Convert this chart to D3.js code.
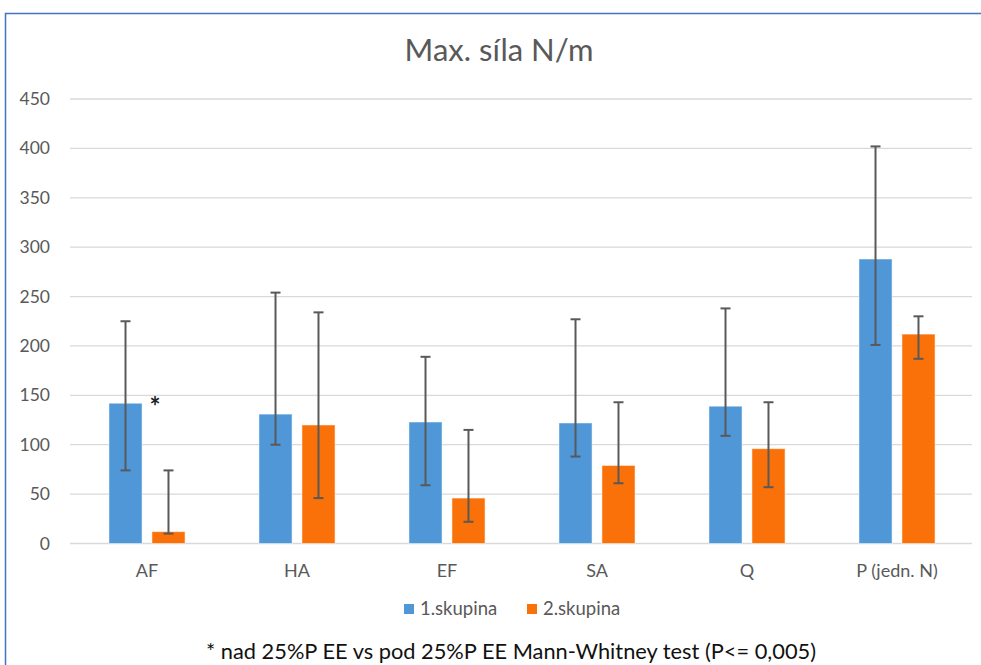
<!DOCTYPE html>
<html>
<head>
<meta charset="utf-8">
<script src="https://cdn.jsdelivr.net/npm/d3@7"></script>
<style>
  body { margin: 0; background: #fff; }
  svg text { font-family: Lato, "Open Sans", sans-serif; }
</style>
</head>
<body>
<svg id="chart" width="981" height="665"></svg>
<script>
// data
let categories = ["AF", "HA", "EF", "SA", "Q", "P (jedn. N)"]
let seriesNames = ["1.skupina", "2.skupina"]
let group1 = [142, 131, 123, 122, 139, 288]
let group2 = [12, 120, 46, 79, 96, 212]
let group1Low = [74, 100, 59, 88, 109, 201]
let group1High = [225, 254, 189, 227, 238, 402]
let group2Low = [10, 46, 22, 61, 57, 187]
let group2High = [74, 234, 115, 143, 143, 230]
let yTicks = [0, 50, 100, 150, 200, 250, 300, 350, 400, 450]
let colors = ["#4F97D7", "#FA7109"]

let svg = d3.select("#chart")

// outer frame
svg.append("path")
    .attr("d", "M5.5,665 L5.5,13.5 L981,13.5")
    .attr("fill", "none")
    .attr("stroke", "#4472C4")
    .attr("stroke-width", 1.5)

let plotLeft = 72, plotRight = 972, plotTop = 99, plotBottom = 543.5

let x = d3.scaleBand()
    .domain(categories)
    .range([plotLeft, plotRight])
let y = d3.scaleLinear()
    .domain([0, 450])
    .range([plotBottom, plotTop])

let inner = d3.scaleBand()
    .domain(seriesNames)
    .range([0, x.bandwidth()])
    .paddingInner(0.23)
    .paddingOuter(0.86)

// grid
svg.append("g")
    .selectAll("line")
    .data(yTicks)
    .join("line")
    .attr("x1", plotLeft - 2)
    .attr("x2", plotRight)
    .attr("y1", d => y(d))
    .attr("y2", d => y(d))
    .attr("stroke", "#d9d9d9")
    .attr("stroke-width", 1.3)

// y axis labels
let yAxis = svg.append("g")
    .attr("transform", "translate(50,0)")
    .call(d3.axisLeft(y).tickValues(yTicks).tickSize(0).tickPadding(0))
yAxis.select(".domain").remove()
yAxis.selectAll("text")
    .attr("font-size", 17.5)
    .attr("fill", "#595959")
    .style("font-family", "Lato, sans-serif")

// x axis labels
let xAxis = svg.append("g")
    .attr("transform", "translate(0," + plotBottom + ")")
    .call(d3.axisBottom(x).tickSize(0).tickPadding(21))
xAxis.select(".domain").remove()
xAxis.selectAll("text")
    .attr("font-size", 18)
    .attr("fill", "#595959")
    .style("font-family", "Lato, sans-serif")

let rows = []
categories.forEach((c, i) => {
    rows.push({ cat: c, s: seriesNames[0], v: group1[i], lo: group1Low[i], hi: group1High[i], col: colors[0] })
    rows.push({ cat: c, s: seriesNames[1], v: group2[i], lo: group2Low[i], hi: group2High[i], col: colors[1] })
})

// bars
svg.append("g")
    .selectAll("rect")
    .data(rows)
    .join("rect")
    .attr("x", d => x(d.cat) + inner(d.s))
    .attr("width", inner.bandwidth())
    .attr("y", d => y(d.v))
    .attr("height", d => y(0) - y(d.v))
    .attr("fill", d => d.col)
    .attr("stroke", "#fff")
    .attr("stroke-opacity", 0.5)

// error bars
let err = svg.append("g")
    .attr("stroke", "#595959")
    .attr("stroke-width", 2)
rows.forEach(d => {
    let cx = x(d.cat) + inner(d.s) + inner.bandwidth() / 2
    err.append("line")
        .attr("x1", cx).attr("x2", cx)
        .attr("y1", y(d.lo)).attr("y2", y(d.hi))
    err.append("line")
        .attr("x1", cx - 5).attr("x2", cx + 5)
        .attr("y1", y(d.lo)).attr("y2", y(d.lo))
    err.append("line")
        .attr("x1", cx - 5).attr("x2", cx + 5)
        .attr("y1", y(d.hi)).attr("y2", y(d.hi))
})

// significance marker on AF
svg.append("text")
    .attr("x", x("AF") + inner(seriesNames[1]) + 3)
    .attr("y", y(group1[0]) + 13)
    .attr("text-anchor", "middle")
    .attr("font-size", 26)
    .attr("font-weight", "bold")
    .attr("fill", "#222")
    .text("*")

// title
svg.append("text")
    .attr("x", 499)
    .attr("y", 61)
    .attr("text-anchor", "middle")
    .attr("font-size", 31)
    .attr("fill", "#595959")
    .text("Max. síla N/m")

// legend
let legend = svg.append("g")
let lx = [404, 527]
seriesNames.forEach((s, i) => {
    legend.append("rect")
        .attr("x", lx[i]).attr("y", 604)
        .attr("width", 10).attr("height", 10)
        .attr("fill", colors[i])
    legend.append("text")
        .attr("x", lx[i] + 16).attr("y", 615)
        .attr("font-size", 18.5)
        .attr("fill", "#595959")
        .text(s)
})

// footnote
svg.append("text")
    .attr("x", 511)
    .attr("y", 659)
    .attr("text-anchor", "middle")
    .attr("font-size", 21.8)
    .attr("fill", "#111")
    .text("* nad 25%P EE vs pod 25%P EE Mann-Whitney test (P<= 0,005)")
</script>
</body>
</html>
